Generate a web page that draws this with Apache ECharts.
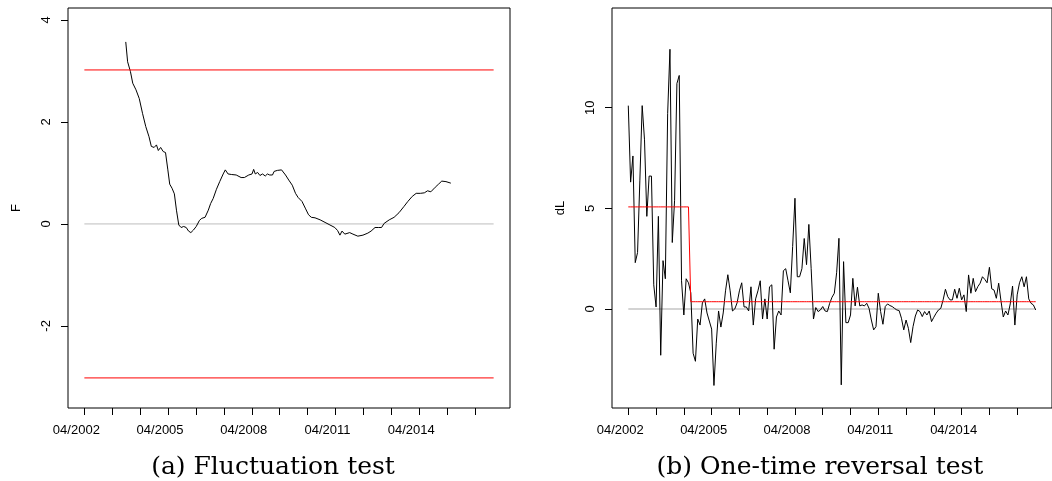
<!DOCTYPE html>
<html><head><meta charset="utf-8">
<script src="https://cdn.jsdelivr.net/npm/echarts@6/dist/echarts.min.js"></script>
<style>html,body{margin:0;padding:0;background:#fff}#c{width:1052px;height:481px}</style>
</head><body><div id="c"></div>
<script>
// months since 04/2002
const lastMonth = 176;
const xTickMonths = [0,12,24,36,48,60,72,84,96,108,120,132,144,156,168];
const xLabelMonths = [0,36,72,108,144];
const xLabels = ['04/2002','04/2005','04/2008','04/2011','04/2014'];

// (a) Fluctuation test
const fluctMonths = [17.8,18.6,19.8,20.8,22.2,23.6,25.0,26.4,27.8,28.8,30.0,31.0,31.8,32.8,33.9,34.9,35.9,36.7,37.7,38.7,39.6,40.6,41.6,42.7,43.8,44.8,45.8,46.9,48.1,49.5,50.5,51.9,53.3,54.3,55.4,56.8,58.2,59.7,60.6,61.8,63.2,65.3,67.4,68.8,70.7,72.1,72.8,73.5,74.5,75.5,76.6,77.8,78.7,79.7,80.9,81.6,83.0,84.8,86.5,87.9,89.4,90.8,91.9,93.6,95.0,96.4,97.6,99.2,101.4,103.5,105.6,107.7,108.9,109.9,110.8,112.0,114.1,115.5,117.6,119.8,121.9,123.3,125.0,126.4,127.8,128.9,131.1,133.2,135.3,137.4,139.1,141.0,142.7,144.5,146.2,147.6,149.0,150.9,152.3,153.7,155.5,157.6];
const fluctValues = [3.57,3.18,2.99,2.76,2.63,2.46,2.17,1.91,1.71,1.52,1.50,1.55,1.44,1.50,1.42,1.40,1.06,0.78,0.70,0.59,0.27,-0.02,-0.07,-0.05,-0.07,-0.14,-0.17,-0.12,-0.05,0.07,0.11,0.13,0.27,0.40,0.50,0.68,0.83,0.98,1.06,0.98,0.97,0.96,0.91,0.91,0.96,0.98,1.07,0.98,1.01,0.95,0.98,0.94,0.98,0.96,0.96,1.03,1.05,1.06,0.96,0.86,0.76,0.60,0.52,0.44,0.31,0.18,0.13,0.12,0.08,0.03,-0.02,-0.07,-0.13,-0.22,-0.14,-0.20,-0.17,-0.20,-0.24,-0.22,-0.18,-0.14,-0.07,-0.07,-0.07,0.01,0.08,0.13,0.22,0.34,0.44,0.54,0.60,0.60,0.61,0.65,0.63,0.72,0.78,0.84,0.83,0.80];
const fluctBoundary = 3.02;
const fTicks = [-2,0,2,4];

// (b) One-time reversal test
const dLValues = [
10.1,6.3,7.6,2.3,2.8,6.4,10.1,8.4,4.6,6.6,
6.6,1.2,0.1,4.6,-2.3,2.4,1.5,9.7,12.9,3.3,
5.4,11.2,11.6,1.4,-0.3,1.5,1.3,0.8,-2.2,-2.6,
-0.5,-0.8,0.3,0.5,-0.2,-0.6,-1.0,-3.8,-1.7,-0.1,
-0.9,-0.2,0.9,1.7,0.9,-0.1,0.0,0.3,0.9,1.3,
0.1,0.1,-0.1,1.1,-0.8,0.5,0.9,1.4,-0.5,0.5,
-0.5,1.1,1.2,-2.0,-0.4,-0.1,-0.3,1.9,2.0,1.4,
0.8,3.1,5.5,1.6,1.6,2.0,3.5,2.2,4.2,2.0,
-0.5,0.07,-0.13,-0.05,0.12,-0.1,-0.13,0.28,0.58,0.78,
1.8,3.51,-3.77,2.35,-0.68,-0.68,-0.3,1.52,0.15,1.08,
0.15,0.2,0.15,0.28,0.03,-0.55,-1.04,-0.88,0.78,-0.13,
-0.76,0.12,0.25,0.17,0.12,0.03,-0.05,-0.08,-0.46,-1.04,
-0.55,-0.96,-1.67,-0.88,-0.35,-0.05,-0.13,-0.38,-0.13,-0.3,
-0.1,-0.63,-0.41,-0.21,-0.05,0.03,0.45,0.98,0.61,0.45,
0.45,0.98,0.53,1.03,0.45,0.7,-0.13,1.69,0.78,1.52,
0.86,1.11,1.28,1.6,1.47,1.3,2.07,1.0,0.94,0.53,
1.28,0.4,-0.4,-0.1,-0.3,0.25,1.14,-0.8,0.7,1.3,
1.6,1.1,1.6,0.5,0.28,0.2,-0.05];
const meanBefore = 5.07, meanAfter = 0.36, breakMonth = 26;
const dLTicks = [0,5,10];
const captions = ['(a) Fluctuation test','(b) One-time reversal test'];

const font = 'Liberation Sans, Arial, Helvetica, sans-serif';
const chart = echarts.init(document.getElementById('c'), null, {renderer:'canvas'});

function xAxisCfg(gi){
  return {type:'value', gridIndex:gi, min:-0.04*lastMonth, max:1.04*lastMonth,
    axisLine:{show:false, onZero:false}, splitLine:{show:false},
    axisTick:{show:true, customValues:xTickMonths, length:7, lineStyle:{color:'#000', width:1}},
    axisLabel:{customValues:xLabelMonths, formatter:v=>xLabels[xLabelMonths.indexOf(v)]||'',
      color:'#000', fontSize:13, fontFamily:font, margin:16, padding:[0,16,0,0]}};
}
function yAxisCfg(gi, min, max, ticks, name){
  return {type:'value', gridIndex:gi, min, max,
    axisLine:{show:false, onZero:false}, splitLine:{show:false},
    axisTick:{show:true, customValues:ticks, length:7, lineStyle:{color:'#000', width:1}},
    axisLabel:{customValues:ticks, rotate:90, color:'#000', fontSize:13, fontFamily:font,
      margin:15, align:'center', verticalAlign:'bottom'},
    name, nameLocation:'middle', nameRotate:90, nameGap:45,
    nameTextStyle:{color:'#000', fontSize:13, fontFamily:font}};
}
const lineBase = {type:'line', showSymbol:false, symbol:'none', silent:true, animation:false};
const fData = fluctMonths.map((m,i)=>[m, fluctValues[i]]);
const dData = dLValues.map((v,i)=>[i, v]);
const fitted = dLValues.map((v,i)=>[i, i<=breakMonth?meanBefore:meanAfter]);

chart.setOption({
  animation:false,
  backgroundColor:'#fff',
  grid:[
    {left:68, right:542, top:8, bottom:73, show:true, borderColor:'#000', borderWidth:1, backgroundColor:'transparent'},
    {left:612, right:-8, top:8, bottom:73, show:true, borderColor:'#000', borderWidth:1, backgroundColor:'transparent'}
  ],
  xAxis:[xAxisCfg(0), xAxisCfg(1)],
  yAxis:[yAxisCfg(0,-3.61,4.235,fTicks,'F'), yAxisCfg(1,-4.92,14.95,dLTicks,'dL')],
  series:[
    Object.assign({}, lineBase, {xAxisIndex:0,yAxisIndex:0, data:[[0,0],[lastMonth,0]], lineStyle:{color:'#bebebe',width:1}}),
    Object.assign({}, lineBase, {xAxisIndex:0,yAxisIndex:0, data:fData, lineStyle:{color:'#000',width:1}}),
    Object.assign({}, lineBase, {xAxisIndex:0,yAxisIndex:0, data:[[0,fluctBoundary],[lastMonth,fluctBoundary]], lineStyle:{color:'#ff0000',width:1}}),
    Object.assign({}, lineBase, {xAxisIndex:0,yAxisIndex:0, data:[[0,-fluctBoundary],[lastMonth,-fluctBoundary]], lineStyle:{color:'#ff0000',width:1}}),
    Object.assign({}, lineBase, {xAxisIndex:1,yAxisIndex:1, data:[[0,0],[lastMonth,0]], lineStyle:{color:'#d3d3d3',width:2}}),
    Object.assign({}, lineBase, {xAxisIndex:1,yAxisIndex:1, data:dData, lineStyle:{color:'#000',width:1}}),
    Object.assign({}, lineBase, {xAxisIndex:1,yAxisIndex:1, data:fitted, lineStyle:{color:'#ff0000',width:1}})
  ],
  graphic:[
    {type:'text', x:273, y:467, style:{text:captions[0], font:'25px "DejaVu Serif", serif', fill:'#000', align:'center', verticalAlign:'middle'}},
    {type:'text', x:820, y:467, style:{text:captions[1], font:'25px "DejaVu Serif", serif', fill:'#000', align:'center', verticalAlign:'middle'}}
  ]
});
</script></body></html>
